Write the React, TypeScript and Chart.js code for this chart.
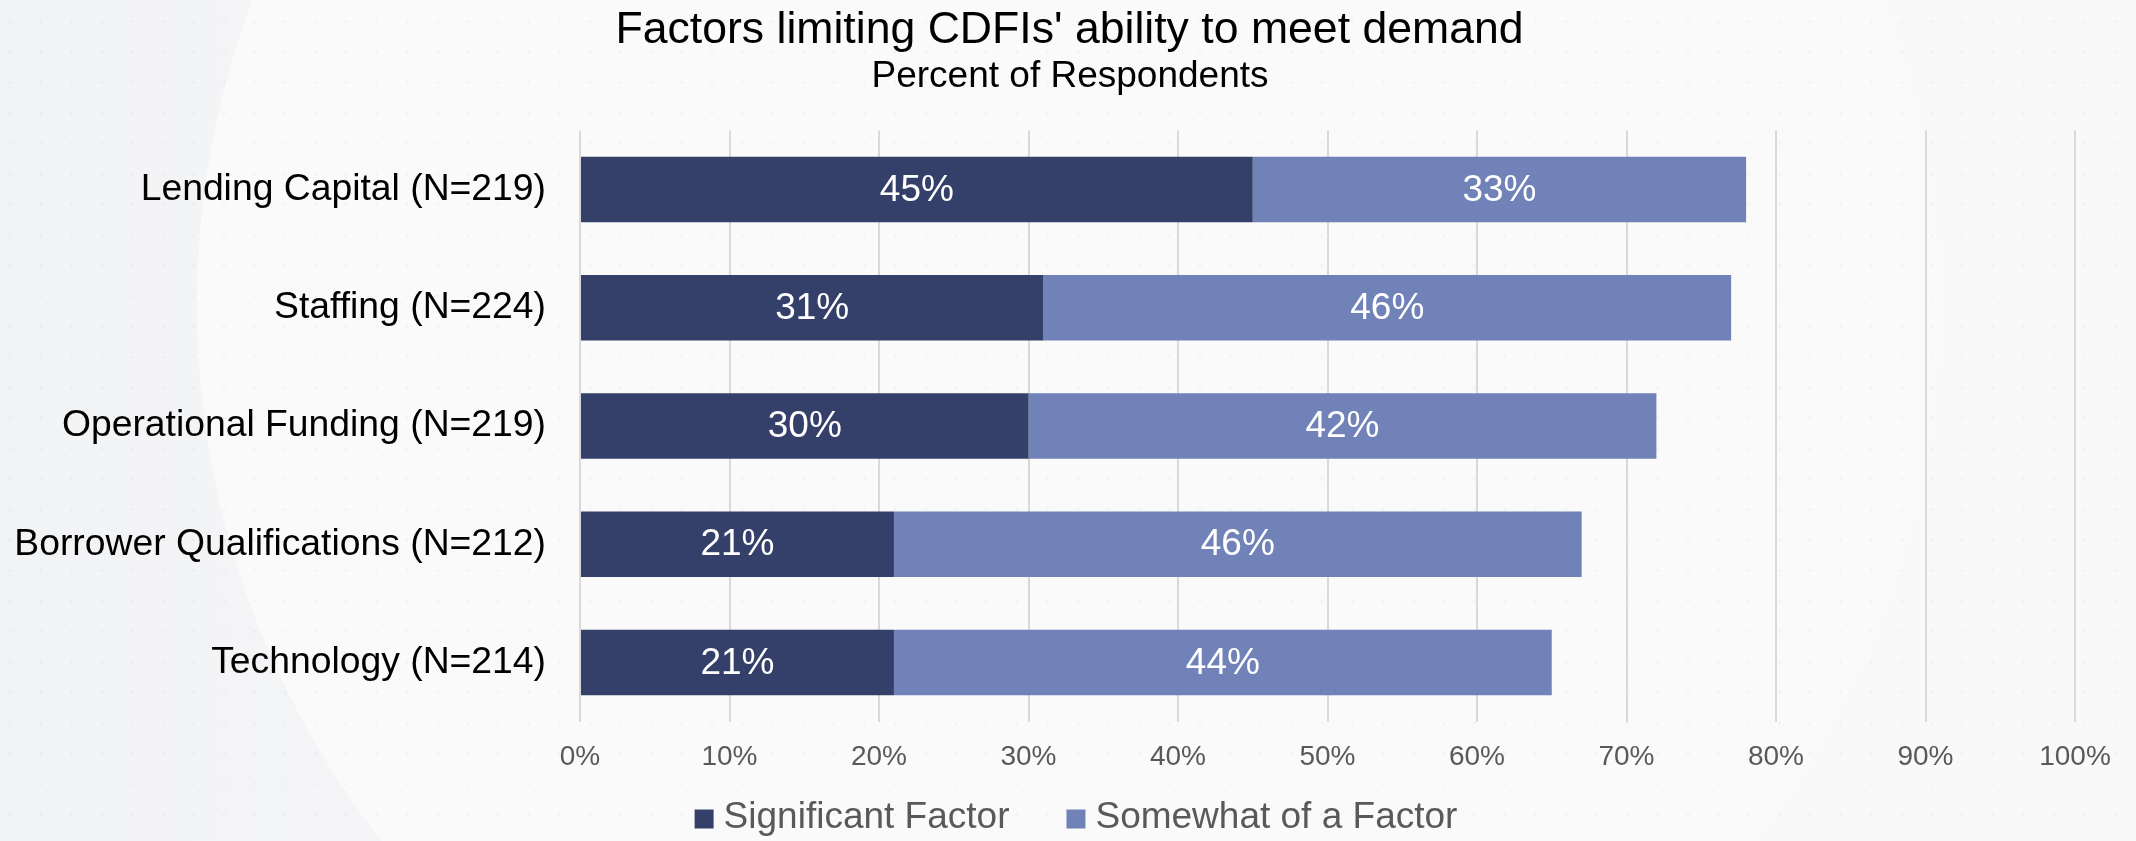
import React, { useEffect, useRef } from "react";
import { Chart, registerables } from "chart.js";

Chart.register(...registerables);

const categories = [
  "Lending Capital (N=219)",
  "Staffing (N=224)",
  "Operational Funding (N=219)",
  "Borrower Qualifications (N=212)",
  "Technology (N=214)",
];
const significantFactor = [45, 31, 30, 21, 21];
const somewhatFactor = [33, 46, 42, 46, 44];
const seriesNames = ["Significant Factor", "Somewhat of a Factor"];
const seriesColors = ["#35406A", "#7182B8"];
const titleText = "Factors limiting CDFIs' ability to meet demand";
const subtitleText = "Percent of Respondents";

const W = 2136;
const H = 841;
const FONT = "'Liberation Sans', Arial, Helvetica, sans-serif";

const backgroundPlugin = {
  id: "slideBackground",
  beforeDraw(chart: any) {
    const ctx = chart.ctx;
    ctx.save();
    const g = ctx.createLinearGradient(0, 0, 1100, 0);
    g.addColorStop(0, "#f2f3f5");
    g.addColorStop(1, "#f9f9fa");
    ctx.fillStyle = g;
    ctx.fillRect(0, 0, W, H);
    ctx.beginPath();
    ctx.arc(1068, 305, 871, 0, Math.PI * 2);
    ctx.fillStyle = "#fafafb";
    ctx.fill();
    ctx.fillStyle = "rgba(0,0,0,0.03)";
    for (let y = 21.5; y < H; y += 30.5) {
      for (let x = 10.5; x < W; x += 30.5) {
        ctx.beginPath();
        ctx.arc(x, y, 1.6, 0, Math.PI * 2);
        ctx.fill();
      }
    }
    ctx.restore();
  },
};

const titlePlugin = {
  id: "slideTitle",
  afterDraw(chart: any) {
    const ctx = chart.ctx;
    ctx.save();
    ctx.fillStyle = "#000000";
    ctx.textAlign = "center";
    ctx.textBaseline = "middle";
    ctx.font = `44.6px ${FONT}`;
    ctx.fillText(titleText, 1069.5, 31);
    ctx.font = `37px ${FONT}`;
    ctx.fillText(subtitleText, 1070, 76.5);
    ctx.restore();
  },
};

const dataLabelPlugin = {
  id: "segmentLabels",
  afterDatasetsDraw(chart: any) {
    const ctx = chart.ctx;
    ctx.save();
    ctx.font = `37px ${FONT}`;
    ctx.fillStyle = "#ffffff";
    ctx.textAlign = "center";
    ctx.textBaseline = "middle";
    chart.data.datasets.forEach((ds: any, di: number) => {
      const meta = chart.getDatasetMeta(di);
      meta.data.forEach((el: any, i: number) => {
        const v = ds.data[i];
        if (!v) return;
        const c = el.getCenterPoint();
        ctx.fillText(`${v}%`, c.x, c.y + 1);
      });
    });
    ctx.restore();
  },
};

const legendPlugin = {
  id: "bottomLegend",
  afterDraw(chart: any) {
    const ctx = chart.ctx;
    ctx.save();
    ctx.font = `37px ${FONT}`;
    ctx.textBaseline = "middle";
    ctx.textAlign = "left";
    const box = 19;
    const textGap = 10;
    const itemGap = 57;
    const items = chart.data.datasets.map((ds: any) => ({
      label: ds.label,
      color: ds.backgroundColor,
      w: ctx.measureText(ds.label).width,
    }));
    const total =
      items.reduce((s: number, it: any) => s + box + textGap + it.w, 0) +
      itemGap * (items.length - 1);
    let x = 1076 - total / 2;
    const cy = 818;
    items.forEach((it: any) => {
      ctx.fillStyle = it.color;
      ctx.fillRect(x, cy - box / 2 + 1, box, box);
      x += box + textGap;
      ctx.fillStyle = "#595959";
      ctx.fillText(it.label, x, cy);
      x += it.w + itemGap;
    });
    ctx.restore();
  },
};

export default function App() {
  const ref = useRef<HTMLCanvasElement | null>(null);

  useEffect(() => {
    if (!ref.current) return;
    const chart = new Chart(ref.current, {
      type: "bar",
      data: {
        labels: categories,
        datasets: [
          {
            label: seriesNames[0],
            data: significantFactor,
            backgroundColor: seriesColors[0],
            barPercentage: 0.555,
            categoryPercentage: 1,
          },
          {
            label: seriesNames[1],
            data: somewhatFactor,
            backgroundColor: seriesColors[1],
            barPercentage: 0.555,
            categoryPercentage: 1,
          },
        ],
      },
      options: {
        indexAxis: "y",
        responsive: false,
        animation: false,
        devicePixelRatio: 1,
        layout: { padding: { left: 0, right: 61, top: 130.4, bottom: 59.4 } },
        plugins: {
          legend: { display: false },
          tooltip: { enabled: false },
          title: { display: false },
          subtitle: { display: false },
        },
        scales: {
          x: {
            stacked: true,
            min: 0,
            max: 100,
            ticks: {
              stepSize: 10,
              color: "#595959",
              padding: 19,
              font: { family: FONT, size: 28 },
              callback: (v: any) => `${v}%`,
            },
            grid: {
              color: "#d9d9d9",
              lineWidth: 2,
              drawTicks: false,
            },
            border: { display: false },
            afterFit: (scale: any) => {
              scale.height = 60;
            },
          },
          y: {
            stacked: true,
            ticks: {
              color: "#000000",
              padding: 34,
              font: { family: FONT, size: 37.3 },
            },
            grid: { display: false, drawTicks: false },
            border: { display: false },
            afterFit: (scale: any) => {
              scale.width = 580;
            },
          },
        },
      },
      plugins: [backgroundPlugin, dataLabelPlugin, titlePlugin, legendPlugin],
    });
    return () => chart.destroy();
  }, []);

  return (
    <div style={{ position: "fixed", left: 0, top: 0, width: W, height: H }}>
      <canvas ref={ref} width={W} height={H} style={{ width: W, height: H, display: "block" }} />
    </div>
  );
}
